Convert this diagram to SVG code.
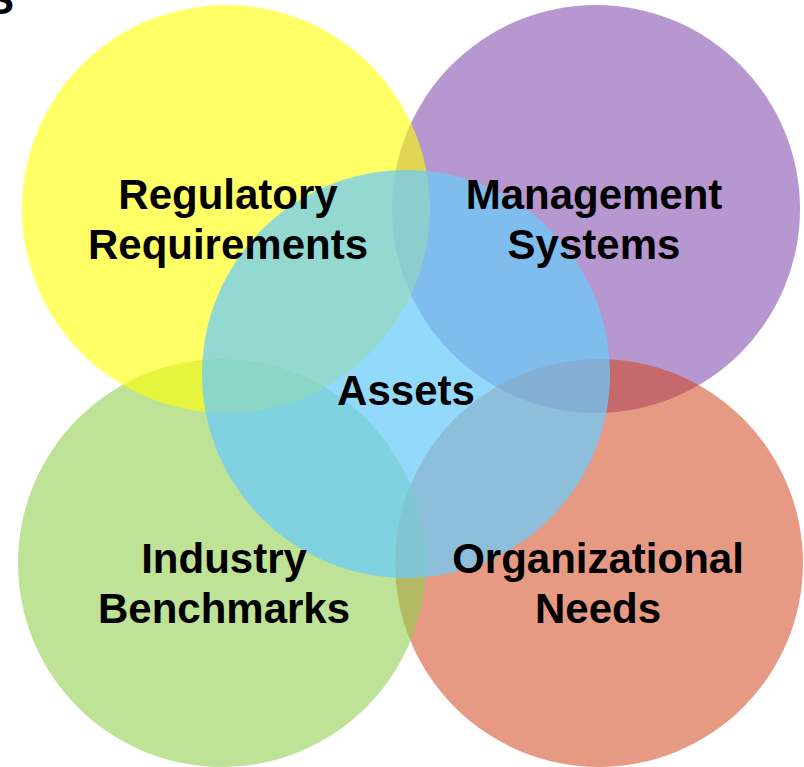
<svg xmlns="http://www.w3.org/2000/svg" width="804" height="767" viewBox="0 0 804 767">
<style>
.lbl{font-family:"Liberation Sans",Arial,sans-serif;font-weight:bold;font-size:42px;fill:#000;text-anchor:middle}
</style>
<rect width="804" height="767" fill="#fff"/>
<text x="-14" y="14" style="font-family:'Liberation Sans',Arial,sans-serif;font-weight:bold;font-size:42px;fill:#000">S</text>
<g id="management">
<circle cx="596" cy="209" r="204" fill="#7030A0" fill-opacity="0.5"/>
</g>
<g id="organizational">
<circle cx="599" cy="563" r="204" fill="#D24114" fill-opacity="0.53"/>
</g>
<g id="industry">
<circle cx="222" cy="563" r="204" fill="#92D050" fill-opacity="0.6"/>
</g>
<g id="regulatory">
<circle cx="226" cy="209" r="204" fill="#FFFF00" fill-opacity="0.6"/>
</g>
<g id="assets">
<circle cx="406" cy="374" r="204" fill="#6BCBFB" fill-opacity="0.73"/>
</g>
<g id="connectors"></g>
<g id="labels">
<text class="lbl" x="228" y="209">Regulatory</text>
<text class="lbl" x="228" y="259">Requirements</text>
<text class="lbl" x="594" y="209">Management</text>
<text class="lbl" x="594" y="259">Systems</text>
<text class="lbl" x="406" y="405">Assets</text>
<text class="lbl" x="224" y="573">Industry</text>
<text class="lbl" x="224" y="623">Benchmarks</text>
<text class="lbl" x="598" y="573">Organizational</text>
<text class="lbl" x="598" y="623">Needs</text>
</g>
</svg>
